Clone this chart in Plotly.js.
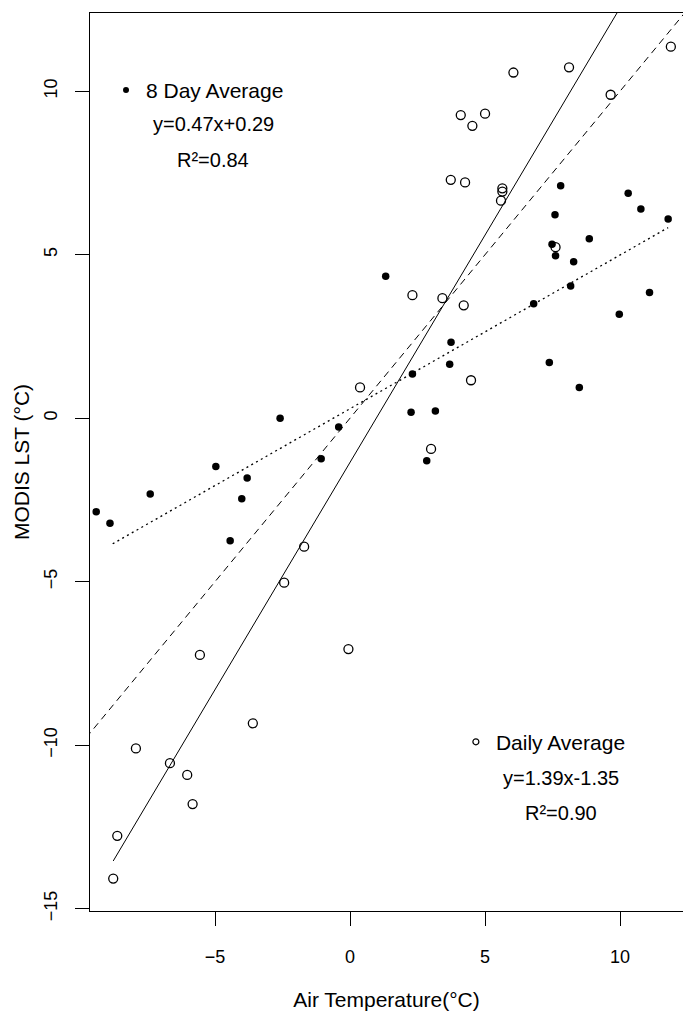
<!DOCTYPE html>
<html>
<head>
<meta charset="utf-8">
<script src="https://cdn.plot.ly/plotly-3.0.1.min.js"></script>
<style>html,body{margin:0;padding:0;background:#fff;}#chart{width:683px;height:1013px;}</style>
</head>
<body>
<div id="chart"></div>
<script>
// Daily average (open circles)
const dailyX = [-8.77,-8.62,-7.93,-6.67,-6.03,-5.83,-5.56,-3.60,-2.44,-1.70,-0.06,0.37,2.31,3.00,3.42,3.73,4.10,4.21,4.26,4.48,4.53,5.00,5.59,5.64,5.64,6.05,7.61,8.11,9.65,11.88];
const dailyY = [-14.08,-12.77,-10.10,-10.55,-10.91,-11.80,-7.24,-9.33,-5.03,-3.93,-7.06,0.94,3.76,-0.94,3.67,7.29,9.27,3.45,7.21,1.16,8.94,9.31,6.65,6.93,7.03,10.57,5.23,10.73,9.89,11.36];
// 8 day average (filled dots)
const eightX = [-9.40,-8.89,-7.40,-4.97,-4.44,-4.01,-3.81,-2.59,-1.07,-0.42,1.32,2.26,2.31,2.84,3.16,3.69,3.74,6.80,7.38,7.48,7.59,7.61,7.80,8.17,8.28,8.49,8.86,9.97,10.30,10.77,11.09,11.78];
const eightY = [-2.86,-3.21,-2.32,-1.48,-3.75,-2.46,-1.83,0.00,-1.24,-0.27,4.34,0.18,1.35,-1.30,0.22,1.65,2.32,3.50,1.70,5.32,6.22,4.97,7.11,4.04,4.78,0.94,5.49,3.18,6.88,6.40,3.84,6.09];

// fitted lines (from the chart's equations)
const dailyFit = {slope: 1.39, intercept: -1.35, xFrom: -8.77, xTo: 11.88};
const eightFit = {slope: 0.47, intercept: 0.29, xFrom: -8.79, xTo: 11.78};
const oneToOne = {slope: 1, intercept: 0, xFrom: -16, xTo: 16};

const xTicks = [-5, 0, 5, 10];
const yTicks = [-15, -10, -5, 0, 5, 10];

const seriesNames = ['8 Day Average', 'Daily Average'];
const eqTexts = ['y=0.47x+0.29', 'R²=0.84', 'y=1.39x-1.35', 'R²=0.90'];

function fitLine(f) {
  return {x: [f.xFrom, f.xTo], y: [f.slope*f.xFrom + f.intercept, f.slope*f.xTo + f.intercept]};
}

const FONT = 'Arial, "Liberation Sans", sans-serif';
const dl = fitLine(dailyFit), el = fitLine(eightFit), ol = fitLine(oneToOne);

const traces = [
  {x: ol.x, y: ol.y, mode: 'lines', line: {color: '#000', width: 1, dash: '7px,5px'}, showlegend: false, hoverinfo: 'skip'},
  {x: dl.x, y: dl.y, mode: 'lines', line: {color: '#000', width: 1}, showlegend: false, hoverinfo: 'skip'},
  {x: el.x, y: el.y, mode: 'lines', line: {color: '#000', width: 1.3, dash: '2px,3.5px'}, showlegend: false, hoverinfo: 'skip'},
  {x: dailyX, y: dailyY, mode: 'markers', name: seriesNames[1], showlegend: false,
   marker: {symbol: 'circle-open', size: 9, color: '#000', line: {width: 1.3, color: '#000'}}},
  {x: eightX, y: eightY, mode: 'markers', name: seriesNames[0], showlegend: false,
   marker: {symbol: 'circle', size: 7.5, color: '#000'}},
  {x: [null], y: [null], mode: 'markers', name: seriesNames[0], legend: 'legend',
   marker: {symbol: 'circle', size: 6, color: '#000'}},
  {x: [null], y: [null], mode: 'markers', name: seriesNames[1], legend: 'legend2',
   marker: {symbol: 'circle-open', size: 6, color: '#000', line: {width: 1.2, color: '#000'}}}
];

const axisCommon = {
  showgrid: false, zeroline: false, showline: true, linecolor: '#000', linewidth: 1,
  ticks: 'outside', ticklen: 14, tickwidth: 1, tickcolor: '#000',
  tickfont: {family: FONT, size: 18, color: '#000'}
};

const layout = {
  width: 683, height: 1013,
  margin: {l: 90, r: 0, t: 13, b: 102},
  paper_bgcolor: '#fff', plot_bgcolor: '#fff',
  font: {family: FONT, color: '#000'},
  xaxis: Object.assign({}, axisCommon, {
    range: [-9.63, 12.33], tickmode: 'array', tickvals: xTicks, mirror: true,
    ticklabelstandoff: 15,
    title: {text: 'Air Temperature(°C)', font: {family: FONT, size: 21, color: '#000'}, standoff: 26}
  }),
  yaxis: Object.assign({}, axisCommon, {
    range: [-15.07, 12.39], tickmode: 'array', tickvals: yTicks, tickangle: -90, mirror: false,
    ticklabelstandoff: 11,
    title: {text: 'MODIS LST (°C)', font: {family: FONT, size: 21, color: '#000'}, standoff: 5}
  }),
  legend: {x: 0.027, y: 0.914, xanchor: 'left', yanchor: 'middle', bgcolor: 'rgba(0,0,0,0)',
           font: {family: FONT, size: 21, color: '#000'}},
  legend2: {x: 0.617, y: 0.188, xanchor: 'left', yanchor: 'middle', bgcolor: 'rgba(0,0,0,0)',
            font: {family: FONT, size: 21, color: '#000'}},
  annotations: [
    {xref: 'paper', yref: 'paper', x: 0.2083, y: 0.8764, text: eqTexts[0], showarrow: false, xanchor: 'center', yanchor: 'middle', font: {family: FONT, size: 20, color: '#000'}},
    {xref: 'paper', yref: 'paper', x: 0.2066, y: 0.8363, text: eqTexts[1], showarrow: false, xanchor: 'center', yanchor: 'middle', font: {family: FONT, size: 20, color: '#000'}},
    {xref: 'paper', yref: 'paper', x: 0.795, y: 0.1478, text: eqTexts[2], showarrow: false, xanchor: 'center', yanchor: 'middle', font: {family: FONT, size: 20, color: '#000'}},
    {xref: 'paper', yref: 'paper', x: 0.795, y: 0.1088, text: eqTexts[3], showarrow: false, xanchor: 'center', yanchor: 'middle', font: {family: FONT, size: 20, color: '#000'}}
  ]
};

Plotly.newPlot('chart', traces, layout, {displayModeBar: false, staticPlot: true});
</script>
</body>
</html>
